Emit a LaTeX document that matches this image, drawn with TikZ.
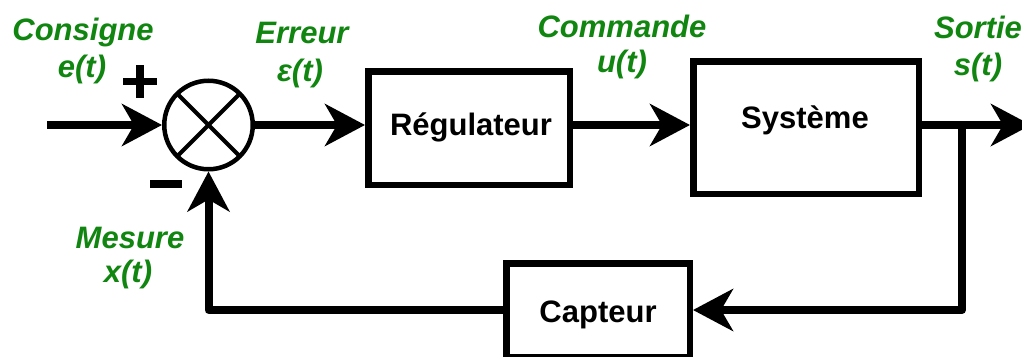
\documentclass[tikz,border=0pt]{standalone}
\usepackage{fontspec}
\setmainfont{Liberation Sans}
\usetikzlibrary{arrows.meta}
\definecolor{lblgreen}{RGB}{16,133,16}
\begin{document}
\begin{tikzpicture}[x=1pt,y=-1pt,
  conn/.style={line width=8pt, line join=round, -{Stealth[length=40pt,width=42pt,inset=12pt]}},
  blk/.style={draw, line width=6.5pt, inner sep=0pt},
  lbl/.style={text=lblgreen, font=\fontsize{31}{36}\selectfont\bfseries\itshape, anchor=base, inner sep=0pt},
  btxt/.style={font=\fontsize{31}{36}\selectfont\bfseries, anchor=base, inner sep=0pt},
  sign/.style={line width=7.5pt}]
\useasboundingbox (0,0) rectangle (1022,356);
\clip (0,0) rectangle (1022,356);

% blocks
\node[draw, circle, line width=4.5pt, minimum size=88.5pt, inner sep=0pt] (sum) at (208.5,125) {};
\draw[line width=4pt] ([shift={(45:44)}]sum.center) -- ([shift={(225:44)}]sum.center)
                      ([shift={(135:44)}]sum.center) -- ([shift={(315:44)}]sum.center);
\node[blk, minimum width=201.5pt, minimum height=113.5pt] (reg) at (469,128) {};
\node[btxt] (regt) at (471,135) {Régulateur};
\node[blk, minimum width=225.5pt, minimum height=132.5pt] (sys) at (806,127.5) {};
\node[btxt] (syst) at (805,128) {Système};
\node[blk, minimum width=183.5pt, minimum height=93.5pt] (cap) at (598,310) {};
\node[btxt] (capt) at (598,322) {Capteur};

% signs
\draw[sign] (123,81.5) -- (157,81.5) (140,65) -- (140,98);
\draw[sign] (150,184) -- (182,184);

% connectors
\coordinate (in) at (47,125);
\coordinate (out) at (1031,125);
\coordinate (br) at (962,125);
\draw[conn] (in) -- (sum.west);
\draw[conn] (sum.east) -- (sum.east -| reg.west);
\draw[conn] (sum.east -| reg.east) -- (sum.east -| sys.west);
\draw[conn] (sum.east -| sys.east) -- (out);
\draw[conn] (br) -- (br |- cap.east) -- (cap.east);
\draw[conn] (cap.west) -- (cap.west -| sum.south) -- (sum.south);

% labels
\node[lbl] (l1a) at (83,40) {Consigne};
\node[lbl] (l1b) at (82,77) {e(t)};
\node[lbl] (l2a) at (302,43) {Erreur};
\node[lbl] (l2b) at (300,81) {ε(t)};
\node[lbl] (l3a) at (622,37) {Commande};
\node[lbl] (l3b) at (622,72) {u(t)};
\node[lbl] (l4a) at (978,38) {Sortie};
\node[lbl] (l4b) at (978,75) {s(t)};
\node[lbl] (l5a) at (130,248) {Mesure};
\node[lbl] (l5b) at (128,282) {x(t)};
\end{tikzpicture}
\end{document}
